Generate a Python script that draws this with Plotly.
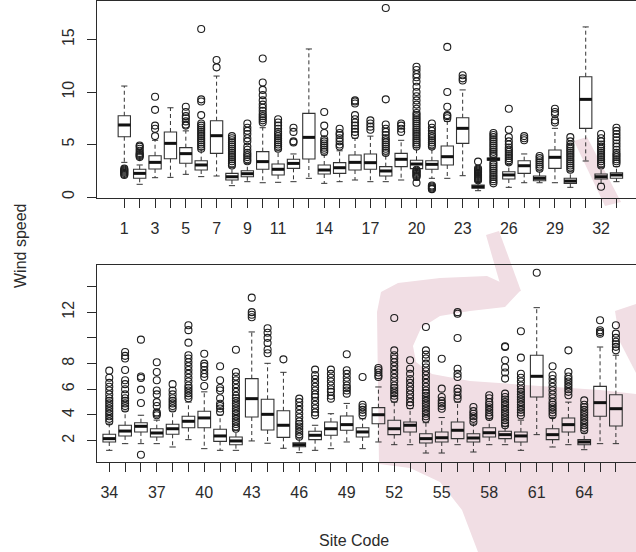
import plotly.graph_objects as go

# ---------------------------------------------------------------------------
# Wind speed by site: box statistics (R-style boxplots, 66 sites)
# ---------------------------------------------------------------------------
site_codes = list(range(1, 67))

q1_vals = [
    5.74, 1.78, 2.67, 3.65, 3.21, 2.57, 4.16, 1.62, 1.93, 2.64, 2.10,
    2.73, 3.62, 2.19, 2.25, 2.57, 2.64, 2.00, 2.89, 2.70, 2.64, 3.05,
    5.11, 0.83, 3.50, 1.71, 2.25, 1.55, 2.73, 1.30, 6.54, 1.71, 1.78,
    1.90, 2.37, 2.68, 2.29, 2.50, 3.01, 3.01, 1.95, 1.69, 3.84, 2.83,
    2.26, 1.53, 2.08, 2.42, 2.81, 2.29, 3.32, 2.47, 2.68, 1.82, 1.90,
    2.16, 1.90, 2.29, 2.16, 1.90, 5.40, 2.08, 2.68, 1.69, 3.90, 3.14,
]
median_vals = [
    6.86, 2.25, 3.30, 5.11, 4.13, 3.05, 5.84, 1.93, 2.22, 3.37, 2.64,
    3.20, 5.68, 2.57, 2.79, 3.30, 3.27, 2.48, 3.59, 3.14, 3.11, 3.84,
    6.54, 0.98, 3.60, 2.10, 2.98, 1.78, 3.78, 1.52, 9.30, 1.93, 2.10,
    2.16, 2.75, 3.12, 2.60, 2.93, 3.51, 3.77, 2.37, 1.98, 5.27, 4.05,
    3.20, 1.69, 2.42, 2.93, 3.25, 2.68, 4.02, 2.93, 3.20, 2.16, 2.23,
    2.81, 2.21, 2.62, 2.47, 2.37, 7.01, 2.47, 3.25, 1.90, 4.96, 4.49,
]
q3_vals = [
    7.74, 2.64, 3.93, 6.19, 4.70, 3.46, 7.27, 2.25, 2.50, 4.32, 3.14,
    3.60, 7.97, 3.05, 3.27, 4.00, 4.10, 2.89, 4.16, 3.50, 3.46, 4.86,
    7.55, 1.14, 3.70, 2.41, 3.46, 2.00, 4.48, 1.78, 11.46, 2.19, 2.31,
    2.50, 3.20, 3.40, 2.93, 3.28, 3.90, 4.29, 2.89, 2.29, 6.83, 5.22,
    4.33, 1.84, 2.73, 3.46, 3.92, 3.01, 4.57, 3.59, 3.46, 2.54, 2.68,
    3.46, 2.54, 3.01, 2.73, 2.68, 8.65, 2.93, 3.77, 2.08, 6.23, 5.58,
]
low_whisker = [
    3.30, 1.21, 1.84, 1.87, 2.16, 1.94, 2.00, 1.08, 1.46, 1.36, 1.40,
    1.46, 1.78, 1.30, 1.46, 1.62, 1.46, 1.46, 1.62, 1.60, 1.78, 1.78,
    2.03, 0.60, 3.40, 0.92, 1.36, 1.36, 1.36, 0.92, 3.43, 1.30, 1.46,
    1.25, 1.77, 1.77, 1.77, 1.51, 2.08, 1.38, 1.25, 1.25, 1.98, 1.80,
    1.41, 1.07, 1.25, 1.38, 1.90, 1.38, 1.90, 1.69, 1.69, 1.04, 1.04,
    1.69, 1.12, 1.69, 1.69, 1.25, 2.47, 1.51, 1.69, 1.30, 1.77, 1.77,
]
high_whisker = [
    10.57, 3.05, 5.40, 8.50, 6.30, 4.50, 11.52, 2.80, 3.20, 6.60, 4.40,
    4.10, 14.10, 4.00, 4.40, 5.60, 5.80, 4.00, 5.40, 4.70, 4.60, 7.20,
    10.20, 1.46, 3.80, 3.10, 4.10, 2.50, 6.54, 2.40, 16.20, 2.80, 2.90,
    3.30, 4.30, 3.98, 3.60, 4.30, 5.00, 5.80, 4.00, 2.80, 10.46, 8.02,
    7.32, 2.20, 3.20, 4.10, 4.90, 3.70, 6.18, 5.00, 4.50, 3.40, 3.80,
    5.00, 3.30, 3.70, 3.10, 3.60, 12.35, 3.80, 5.00, 2.60, 9.29, 8.65,
]
outlier_vals = [
    [2.1, 2.2, 2.3, 2.4, 2.5, 2.6, 2.7],
    [3.8, 3.9, 4.0, 4.1, 4.2, 4.4, 4.6, 4.8, 4.9],
    [5.8, 6.5, 6.8, 8.3, 9.55],
    [],
    [6.8, 6.9, 7.2, 7.5, 7.7, 8.1, 8.6],
    [4.6, 4.8, 5.0, 5.2, 5.4, 5.6, 5.8, 6.0, 6.2, 6.4, 6.6, 6.8, 7.0, 7.8, 9.1, 9.3, 16.0],
    [12.35, 13.05],
    [3.0, 3.2, 3.4, 3.6, 3.8, 4.0, 4.2, 4.4, 4.6, 4.8, 5.0, 5.2, 5.4, 5.6, 5.8],
    [3.4, 3.6, 3.8, 4.0, 4.2, 4.5, 4.8, 5.3, 5.6, 6.0, 6.3, 6.6, 7.0],
    [7.1, 7.3, 7.5, 7.7, 7.9, 8.2, 8.5, 8.8, 9.2, 9.7, 10.2, 10.9, 13.2],
    [4.6, 4.8, 5.0, 5.2, 5.4, 5.6, 5.8, 6.0, 6.2, 6.5, 6.8, 7.1, 7.4],
    [5.2, 5.3, 6.2, 6.6],
    [],
    [4.3, 4.5, 4.7, 4.9, 5.1, 5.3, 5.5, 6.1, 6.8, 8.1],
    [4.8, 5.0, 5.3, 5.6, 5.9, 6.1, 6.5],
    [5.9, 6.2, 6.5, 6.8, 7.1, 7.4, 7.8, 8.9, 9.1, 9.2],
    [6.4, 6.7, 7.0, 7.3],
    [4.2, 4.4, 4.6, 4.8, 5.0, 5.2, 5.4, 5.6, 5.9, 6.2, 6.5, 6.9, 9.3, 18.0],
    [6.2, 6.5, 6.8, 7.0],
    [1.36, 1.9, 2.0, 2.1, 2.2, 2.3, 2.4, 2.5, 2.6,
     4.8, 5.0, 5.2, 5.4, 5.6, 5.8, 6.0, 6.2, 6.4, 6.6, 6.8, 7.0, 7.2, 7.4, 7.6, 7.8, 8.0,
     8.4, 8.8, 9.2, 9.6, 10.0, 10.5, 11.0, 11.4, 11.7, 12.1, 12.4],
    [0.75, 0.8, 0.9, 1.0, 1.1, 4.8, 5.0, 5.2, 5.4, 5.6, 5.8, 6.0, 6.3, 6.6, 7.0],
    [7.5, 7.7, 7.8, 8.6, 10.0, 14.3],
    [11.1, 11.3, 11.6],
    [1.6, 1.7, 1.8, 1.9, 2.0, 2.1, 2.2, 2.3, 2.4, 2.5, 2.6, 2.7, 3.37],
    [1.3, 1.5, 1.7, 1.9, 2.1, 2.3, 2.5, 2.7, 2.9, 3.1, 3.3,
     3.9, 4.1, 4.3, 4.5, 4.7, 4.9, 5.1, 5.3, 5.5, 5.7, 5.9, 6.1],
    [3.3, 3.5, 3.7, 3.9, 4.1, 4.3, 4.5, 4.7, 5.0, 5.3, 5.7, 6.4, 8.4],
    [5.4, 5.6, 5.8],
    [2.7, 2.9, 3.1, 3.3, 3.5, 3.7, 3.9],
    [7.1, 7.3, 7.9, 8.1, 8.4],
    [2.6, 2.8, 3.0, 3.2, 3.4, 3.6, 3.8, 4.0, 4.2, 4.4, 4.6, 4.8, 5.0, 5.3, 5.7],
    [],
    [0.98, 3.0, 3.2, 3.4, 3.6, 3.8, 4.0, 4.2, 4.4, 4.6, 4.8, 5.0, 5.3, 5.6, 6.0],
    [3.2, 3.4, 3.6, 3.8, 4.0, 4.2, 4.5, 4.8, 5.1, 5.4, 5.7, 6.0, 6.3, 6.6],
    [3.5, 3.7, 3.9, 4.1, 4.3, 4.5, 4.7, 4.9, 5.1, 5.3, 5.6, 5.9, 6.2, 6.5, 6.9, 7.45],
    [4.5, 4.7, 4.9, 5.1, 5.3, 5.6, 6.0, 6.4, 6.7, 7.5, 8.4, 8.6, 8.9],
    [0.91, 4.93, 5.97, 6.88, 7.0, 9.86],
    [3.98, 4.1, 4.2, 4.7, 5.0, 5.6, 5.9, 6.7, 7.35, 8.1],
    [4.5, 4.7, 4.9, 5.1, 5.3, 5.6, 5.9, 6.4],
    [5.3, 5.5, 5.7, 5.9, 6.1, 6.3, 6.6, 6.9, 7.2, 7.5, 7.8, 8.1, 8.4, 8.65, 9.63, 10.6, 10.98],
    [6.26, 6.96, 7.2, 7.5, 7.8, 8.0, 8.77],
    [4.23, 4.5, 4.7, 4.88, 5.3, 5.9, 6.1, 6.7, 7.79],
    [2.93, 3.1, 3.3, 3.5, 3.7, 3.9, 4.1, 4.3, 4.5, 4.7, 4.9, 5.1, 5.3, 5.5, 5.8,
     6.1, 6.4, 6.7, 7.0, 7.35, 9.08],
    [11.6, 11.8, 12.0, 13.13],
    [8.8, 9.1, 9.6, 10.0, 10.4, 10.75],
    [8.33],
    [2.31, 2.5, 2.7, 2.9, 3.1, 3.3, 3.5, 3.8, 4.1, 4.4, 4.7, 5.0, 5.27],
    [3.98, 4.2, 4.5, 4.8, 5.1, 5.4, 5.6, 5.9, 6.2, 6.5, 6.8, 7.1, 7.53],
    [5.27, 5.5, 5.8, 6.0, 6.3, 6.6, 6.9, 7.2, 7.53],
    [5.66, 5.9, 6.1, 6.3, 6.6, 6.9, 7.2, 7.48, 8.72],
    [3.98, 4.2, 4.4, 4.6, 4.8, 6.96],
    [6.96, 7.1, 7.3, 7.5, 7.66],
    [5.27, 5.5, 5.7, 5.9, 6.1, 6.3, 6.6, 6.9, 7.2, 7.5, 7.8, 8.1, 8.4, 8.65, 9.03, 11.55],
    [4.75, 5.0, 5.3, 5.6, 5.9, 6.2, 6.5, 6.8, 7.2, 7.6, 8.26],
    [3.71, 3.9, 4.1, 4.3, 4.5, 4.7, 4.9, 5.1, 5.3, 5.5, 5.7, 5.9, 6.2, 6.5, 6.8,
     7.1, 7.4, 7.7, 8.0, 8.4, 8.7, 9.03, 10.85],
    [4.49, 4.7, 4.9, 5.1, 5.4, 6.05, 8.38],
    [5.27, 5.5, 5.8, 6.05, 6.96, 7.2, 7.6, 9.99, 11.88, 12.0],
    [3.46, 3.7, 3.9, 4.1, 4.3, 4.62],
    [3.84, 4.0, 4.2, 4.4, 4.6, 4.8, 5.0, 5.3, 5.53],
    [3.2, 3.4, 3.6, 3.8, 4.0, 4.2, 4.4, 4.6, 4.8, 5.0, 5.2, 5.4, 5.66, 6.83, 7.3,
     7.7, 8.26, 9.29, 9.35],
    [3.98, 4.2, 4.4, 4.6, 4.8, 5.0, 5.2, 5.4, 5.6, 5.8, 6.0, 6.3, 6.6, 6.9, 7.21,
     8.46, 10.51],
    [15.07],
    [3.98, 4.2, 4.4, 4.6, 4.8, 5.0, 5.3, 5.6, 5.9, 6.2, 6.5, 6.8, 7.09, 7.79],
    [5.53, 5.8, 6.0, 6.2, 6.4, 6.6, 6.8, 7.0, 7.35, 9.03],
    [2.81, 3.0, 3.2, 3.4, 3.6, 3.8, 4.0, 4.2, 4.4, 4.6, 4.8, 5.14],
    [10.33, 10.45, 10.59, 11.37],
    [9.03, 9.3, 9.5, 9.7, 10.0, 10.33, 10.98],
]

top_tick_labels = ["1", "3", "5", "7", "9", "11", "14", "17", "20", "23", "26", "29", "32"]
bottom_tick_labels = ["34", "37", "40", "43", "46", "49", "52", "55", "58", "61", "64"]
top_y_ticks = [0, 5, 10, 15]
bottom_y_ticks = [2, 4, 6, 8, 10, 12, 14]
bottom_y_labels = ["2", "4", "6", "8", "", "12", ""]

# ---------------------------------------------------------------------------
# Styling
# ---------------------------------------------------------------------------
W, H = 636, 552
FONT = "Liberation Sans, Arial, Helvetica, sans-serif"
FONT_SIZE = 16
INK = "#2b2b2b"
BOX_LINE = "#333333"
BOX_HALF = 0.4        # boxwex 0.8
STAPLE_HALF = 0.2     # staplewex 0.5
PINK = "rgb(241,222,228)"

fig = go.Figure()


def add_panel(lo, hi, xa, ya):
    idx = range(lo, hi)
    xs = [site_codes[i] for i in idx]

    # boxes (no built-in whiskers: drawn dashed below, as in R)
    fig.add_trace(go.Box(
        x=xs,
        q1=[q1_vals[i] for i in idx],
        median=[median_vals[i] for i in idx],
        q3=[q3_vals[i] for i in idx],
        lowerfence=[q1_vals[i] for i in idx],
        upperfence=[q3_vals[i] for i in idx],
        width=2 * BOX_HALF, whiskerwidth=0,
        fillcolor="rgba(0,0,0,0)",
        line=dict(color=BOX_LINE, width=1.1),
        boxpoints=False, hoverinfo="skip", showlegend=False,
        xaxis=xa, yaxis=ya,
    ))

    wx, wy, sx, sy, mx, my, ox, oy = [], [], [], [], [], [], [], []
    for i in idx:
        k = site_codes[i]
        wx += [k, k, None, k, k, None]
        wy += [q3_vals[i], high_whisker[i], None, q1_vals[i], low_whisker[i], None]
        sx += [k - STAPLE_HALF, k + STAPLE_HALF, None, k - STAPLE_HALF, k + STAPLE_HALF, None]
        sy += [high_whisker[i], high_whisker[i], None, low_whisker[i], low_whisker[i], None]
        mx += [k - BOX_HALF, k + BOX_HALF, None]
        my += [median_vals[i], median_vals[i], None]
        for v in outlier_vals[i]:
            ox.append(k)
            oy.append(v)

    fig.add_trace(go.Scatter(x=wx, y=wy, mode="lines", xaxis=xa, yaxis=ya,
                             line=dict(color=BOX_LINE, width=1, dash="4px,3px"),
                             hoverinfo="skip", showlegend=False))
    fig.add_trace(go.Scatter(x=sx, y=sy, mode="lines", xaxis=xa, yaxis=ya,
                             line=dict(color=BOX_LINE, width=1),
                             hoverinfo="skip", showlegend=False))
    fig.add_trace(go.Scatter(x=mx, y=my, mode="lines", xaxis=xa, yaxis=ya,
                             line=dict(color="#111111", width=3),
                             hoverinfo="skip", showlegend=False))
    fig.add_trace(go.Scatter(x=ox, y=oy, mode="markers", xaxis=xa, yaxis=ya,
                             marker=dict(symbol="circle-open", size=7,
                                         color="#1e1e1e", line=dict(width=1.1)),
                             hoverinfo="skip", showlegend=False))


add_panel(0, 33, "x", "y")
add_panel(33, 66, "x2", "y2")

# ---------------------------------------------------------------------------
# Background logo (pale swoosh), drawn in pixel space
# ---------------------------------------------------------------------------
logo_shapes = [
    # upper-right streak
    [(574, 141), (587, 137), (621, 202), (605, 206)],
    # middle streak
    [(486, 235), (499, 231), (521, 291), (503, 294)],
    # crescent with lower sweep
    [(377, 312), (381, 292), (398, 283), (440, 278), (487, 276), (520, 291),
     (505, 307), (470, 311), (440, 316), (421, 328), (413, 346), (416, 362),
     (432, 374), (470, 381), (540, 386), (600, 390), (636, 394),
     (636, 552), (478, 552), (462, 510), (440, 482), (410, 468), (379, 464)],
    # right-edge wedge
    [(636, 304), (615, 311), (620, 342), (636, 373)],
]


def pixel_path(points):
    parts = []
    for j, (px, py) in enumerate(points):
        parts.append(("M" if j == 0 else "L") + f"{px / W:.5f},{1 - py / H:.5f}")
    return " ".join(parts) + " Z"


for pts in logo_shapes:
    fig.add_shape(type="path", path=pixel_path(pts), xref="paper", yref="paper",
                  fillcolor=PINK, line=dict(width=0), layer="below")

# ---------------------------------------------------------------------------
# Axes
# ---------------------------------------------------------------------------
X_LEFT = 97 / W
axis_common = dict(showgrid=False, zeroline=False, showline=True, linecolor=INK,
                   linewidth=1, ticks="outside", ticklen=9, tickcolor=INK,
                   tickwidth=1, tickfont=dict(family=FONT, size=FONT_SIZE, color=INK))


def x_ticks(sites, labels):
    return [str(s) if str(s) in labels else "" for s in sites]


fig.update_layout(
    width=W, height=H,
    margin=dict(l=0, r=0, t=0, b=0),
    paper_bgcolor="white", plot_bgcolor="rgba(0,0,0,0)",
    showlegend=False,
    xaxis=dict(domain=[X_LEFT, 1], range=[-0.775, 34.27], anchor="y", mirror=True,
               tickvals=site_codes[:33], ticktext=x_ticks(site_codes[:33], top_tick_labels),
               ticklabelstandoff=7, **axis_common),
    yaxis=dict(domain=[1 - 198 / H, 1 - 1 / H], range=[-0.095, 18.67], anchor="x",
               tickvals=top_y_ticks, ticktext=[str(v) for v in top_y_ticks],
               tickangle=-90, ticklabelstandoff=7, **axis_common),
    xaxis2=dict(domain=[X_LEFT, 1], range=[33.225, 67.27], anchor="y2", mirror=True,
                tickvals=site_codes[33:], ticktext=x_ticks(site_codes[33:], bottom_tick_labels),
                ticklabelstandoff=7, **axis_common),
    yaxis2=dict(domain=[1 - 462 / H, 1 - 265 / H], range=[0.342, 15.67], anchor="x2",
                tickvals=bottom_y_ticks, ticktext=bottom_y_labels,
                tickangle=-90, ticklabelstandoff=7, **axis_common),
)

fig.add_annotation(text="Wind speed", x=20 / W, y=1 - 246 / H, xref="paper", yref="paper",
                   textangle=-90, showarrow=False, xanchor="center", yanchor="middle",
                   font=dict(family=FONT, size=FONT_SIZE, color=INK))
fig.add_annotation(text="Site Code", x=354 / W, y=1 - 540 / H, xref="paper", yref="paper",
                   showarrow=False, xanchor="center", yanchor="middle",
                   font=dict(family=FONT, size=FONT_SIZE, color=INK))

fig.write_html("out.html")
